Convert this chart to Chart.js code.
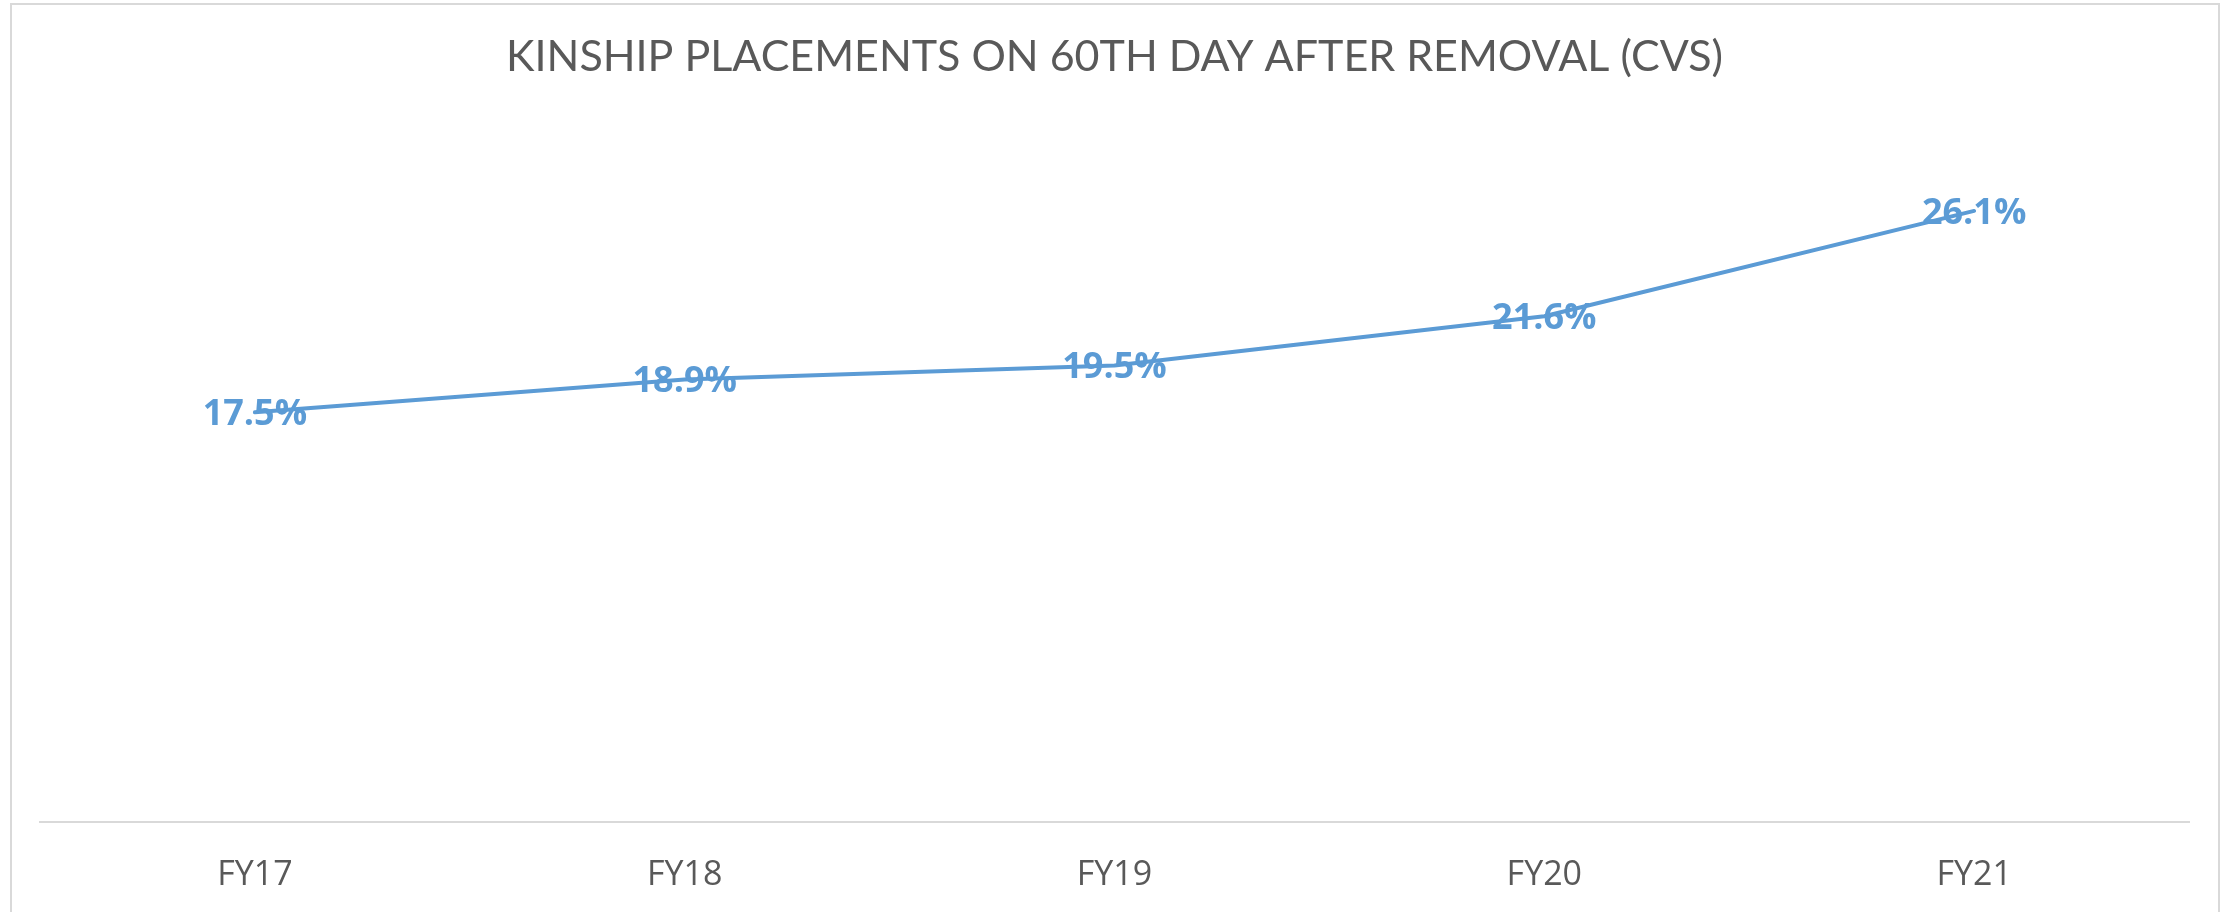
<!DOCTYPE html>
<html>
<head>
<meta charset="utf-8">
<script src="https://cdn.jsdelivr.net/npm/chart.js@4/dist/chart.umd.min.js"></script>
<style>
  html, body { margin: 0; padding: 0; background: #fff; overflow: hidden; }
  #frame {
    position: absolute; left: 10px; top: 3px; width: 2210px; height: 1000px;
    border: 2px solid #d9d9d9; box-sizing: border-box;
  }
  #chart { position: absolute; left: 0; top: 0; }
</style>
</head>
<body>
<div id="frame"></div>
<canvas id="chart" width="2234" height="912"></canvas>
<script>
// chart values
const chartTitle = "KINSHIP PLACEMENTS ON 60TH DAY AFTER REMOVAL (CVS)";
const categories = ["FY17", "FY18", "FY19", "FY20", "FY21"];
const kinshipPct = [17.5, 18.9, 19.5, 21.6, 26.1];

const lineColor = "#5b9bd5";
const textGray = "#595959";

// draws "xx.x%" centred on each point, like Excel's centre label position
const pointLabels = {
    id: "pointLabels",
    afterDatasetsDraw(chart) {
        const ctx = chart.ctx;
        const meta = chart.getDatasetMeta(0);
        const size = 36;
        ctx.save();
        ctx.font = "bold " + size + "px 'Open Sans'";
        ctx.fillStyle = lineColor;
        ctx.textAlign = "center";
        ctx.textBaseline = "alphabetic";
        meta.data.forEach((pt, i) => {
            const val = chart.data.datasets[0].data[i];
            ctx.fillText(val.toFixed(1) + "%", pt.x, pt.y + size * 0.357);
        });
        ctx.restore();
    }
};

const ctx = document.getElementById("chart").getContext("2d");
new Chart(ctx, {
    type: "line",
    data: {
        labels: categories,
        datasets: [{
            data: kinshipPct,
            borderColor: lineColor,
            borderWidth: 4,
            borderCapStyle: "round",
            borderJoinStyle: "round",
            pointRadius: 0,
            pointHoverRadius: 0,
            tension: 0,
            fill: false
        }]
    },
    options: {
        responsive: false,
        devicePixelRatio: 1,
        animation: false,
        layout: {
            padding: { left: 40, right: 45, top: 0, bottom: 0 }
        },
        plugins: {
            legend: { display: false },
            tooltip: { enabled: false },
            title: {
                display: true,
                text: chartTitle,
                color: textGray,
                font: { family: "Lato", size: 43, weight: "normal" },
                padding: { top: 31, bottom: 37 }
            }
        },
        scales: {
            x: {
                offset: true,
                grid: { display: false, drawTicks: false },
                border: { display: true, color: "#d9d9d9", width: 2 },
                ticks: {
                    color: textGray,
                    font: { family: "Open Sans", size: 34 },
                    padding: 33,
                    maxRotation: 0
                },
                // keep the axis band at the reference height (chart.js counts padding twice)
                afterFit(scale) { scale.height = 90; }
            },
            y: {
                display: false,
                min: 0,
                max: 30
            }
        }
    },
    plugins: [pointLabels]
});
</script>
</body>
</html>
